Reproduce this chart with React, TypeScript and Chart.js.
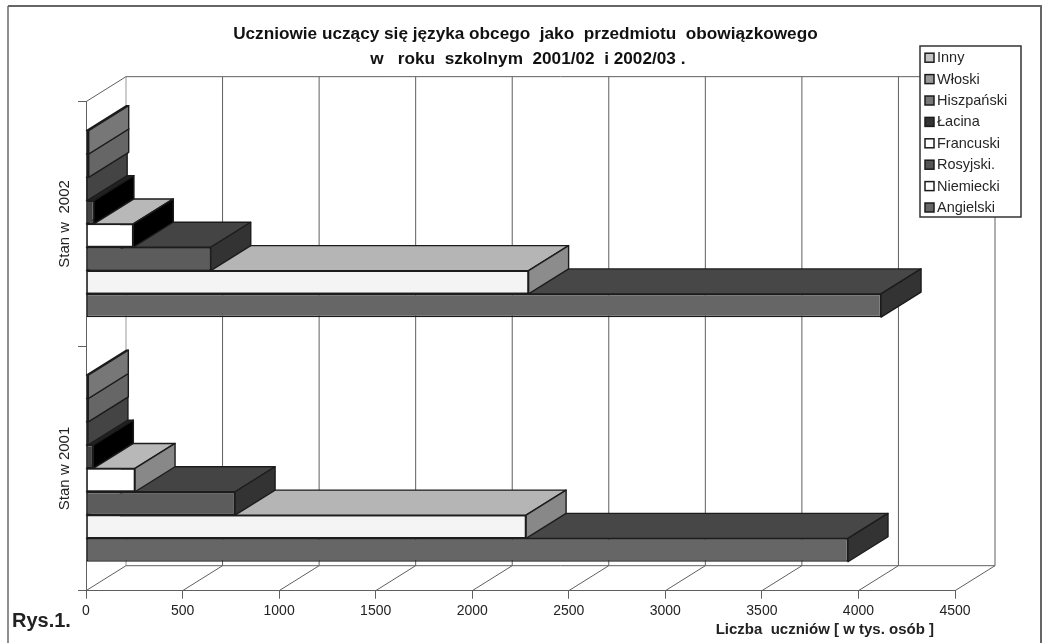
import React, { useEffect, useRef } from "react";
import { Chart, registerables } from "chart.js";

Chart.register(...registerables);

const categories = ["Stan w  2002", "Stan w 2001"];
const seriesNames = ["Inny", "Włoski", "Hiszpański", "Łacina", "Francuski", "Rosyjski.", "Niemiecki", "Angielski"];
const inny = [14, 12];
const wloski = [14, 12];
const hiszpanski = [6, 10];
const lacina = [41, 38];
const francuski = [245, 254];
const rosyjski = [646, 772];
const niemiecki = [2292, 2279];
const angielski = [4117, 3946];
const seriesValues = [inny, wloski, hiszpanski, lacina, francuski, rosyjski, niemiecki, angielski];

const frontColors = ["#777777", "#6c6c6c", "#505050", "#444444", "#ffffff", "#5c5c5c", "#f4f4f4", "#666666"];
const topColors = [
  ["#777777", "#777777"], ["#666666", "#666666"], ["#444444", "#444444"], ["#222222", "#222222"],
  ["#b8b8b8", "#b8b8b8"], ["#444444", "#444444"], ["#b5b5b5", "#b5b5b5"], ["#474747", "#474747"],
];
const sideColors = [
  ["#777777", "#777777"], ["#666666", "#666666"], ["#444444", "#444444"], ["#000000", "#000000"],
  ["#000000", "#888888"], ["#333333", "#333333"], ["#8c8c8c", "#888888"], ["#333333", "#333333"],
];
const swatchColors = ["#c4c4c4", "#999999", "#777777", "#333333", "#ffffff", "#555555", "#ffffff", "#666666"];

const titleLines = [
  " Uczniowie uczący się języka obcego  jako  przedmiotu  obowiązkowego",
  "  w   roku  szkolnym  2001/02  i 2002/03 .",
];
const FONT = '"Liberation Sans", Arial, sans-serif';
const DX = 40;
const DY = 25;
const WIDTH = 1046;
const HEIGHT = 643;

function poly(ctx: CanvasRenderingContext2D, pts: number[][], fill: string) {
  ctx.beginPath();
  pts.forEach((p, i) => (i ? ctx.lineTo(p[0], p[1]) : ctx.moveTo(p[0], p[1])));
  ctx.closePath();
  ctx.fillStyle = fill;
  ctx.fill();
  ctx.lineWidth = 1.4;
  ctx.strokeStyle = "#1c1c1c";
  ctx.lineJoin = "round";
  ctx.stroke();
}

const depthPlugin = {
  id: "depth3d",
  beforeDatasetsDraw(chart: any) {
    const { ctx, chartArea, scales } = chart;
    const x = scales.x;
    const { top, bottom, left, right } = chartArea;
    ctx.save();
    // page frame
    ctx.strokeStyle = "#8f8f8f";
    ctx.lineWidth = 2;
    ctx.beginPath();
    ctx.moveTo(8, HEIGHT);
    ctx.lineTo(8, 6);
    ctx.stroke();
    ctx.strokeStyle = "#666666";
    ctx.beginPath();
    ctx.moveTo(8, 6);
    ctx.lineTo(1041, 6);
    ctx.lineTo(1041, HEIGHT);
    ctx.stroke();
    // walls and floor
    ctx.lineWidth = 1;
    ctx.strokeStyle = "#6a6a6a";
    x.ticks.forEach((t: any, i: number) => {
      const px = x.getPixelForValue(t.value);
      ctx.strokeStyle = i === 0 ? "#999999" : "#5f5f5f";
      ctx.beginPath();
      ctx.moveTo(px + DX, top - DY);
      ctx.lineTo(px + DX, bottom - DY);
      ctx.stroke();
      ctx.strokeStyle = "#5f5f5f";
      ctx.beginPath();
      ctx.moveTo(px, bottom);
      ctx.lineTo(px + DX, bottom - DY);
      ctx.stroke();
    });
    ctx.beginPath();
    ctx.moveTo(left, top);
    ctx.lineTo(left + DX, top - DY);
    ctx.lineTo(right + DX, top - DY);
    ctx.moveTo(left + DX, bottom - DY);
    ctx.lineTo(right + DX, bottom - DY);
    ctx.stroke();
    ctx.restore();
  },
  afterDatasetDraw(chart: any, args: any) {
    const { ctx } = chart;
    const i = args.index;
    ctx.save();
    args.meta.data.forEach((bar: any, c: number) => {
      const { x, y, base, height } = bar.getProps(["x", "y", "base", "height"], true);
      const t = y - height / 2;
      const b = y + height / 2;
      poly(ctx, [[base, t], [x, t], [x + DX, t - DY], [base + DX, t - DY]], topColors[i][c]);
      poly(ctx, [[x, t], [x + DX, t - DY], [x + DX, b - DY], [x, b]], sideColors[i][c]);
    });
    ctx.restore();
  },
  afterDraw(chart: any) {
    const { ctx } = chart;
    ctx.save();
    // legend box
    ctx.fillStyle = "#ffffff";
    ctx.strokeStyle = "#333333";
    ctx.lineWidth = 1.5;
    ctx.fillRect(920, 46, 101, 171);
    ctx.strokeRect(920, 46, 101, 171);
    ctx.textBaseline = "middle";
    ctx.textAlign = "left";
    ctx.font = `14.5px ${FONT}`;
    chart.data.datasets.forEach((d: any, i: number) => {
      const cy = 57.7 + i * 21.4;
      ctx.fillStyle = swatchColors[i];
      ctx.fillRect(925, cy - 4.5, 9, 9);
      ctx.strokeStyle = "#1c1c1c";
      ctx.strokeRect(925, cy - 4.5, 9, 9);
      ctx.fillStyle = "#262626";
      ctx.fillText(d.label, 937, cy + 0.5);
    });
    // annotations
    ctx.fillStyle = "#222222";
    ctx.textBaseline = "alphabetic";
    ctx.font = `bold 20px ${FONT}`;
    ctx.fillText("Rys.1.", 12, 627);
    ctx.font = `bold 15px ${FONT}`;
    ctx.textAlign = "right";
    ctx.fillText("Liczba  uczniów [ w tys. osób ]", 934, 634);
    ctx.restore();
  },
};

export default function App() {
  const ref = useRef<HTMLCanvasElement | null>(null);
  useEffect(() => {
    if (!ref.current) return;
    const chart = new Chart(ref.current, {
      type: "bar",
      data: {
        labels: categories,
        datasets: seriesNames.map((label, i) => ({
          label,
          data: seriesValues[i],
          backgroundColor: frontColors[i],
          borderColor: "#1c1c1c",
          borderWidth: 1.4,
          borderSkipped: false,
          categoryPercentage: 0.763,
          barPercentage: 1,
        })),
      },
      options: {
        indexAxis: "y",
        animation: false,
        responsive: false,
        plugins: {
          legend: { display: false },
          tooltip: { enabled: false },
          title: {
            display: true,
            text: titleLines,
            color: "#111111",
            font: { family: FONT, size: 17.2, weight: "bold", lineHeight: 1.45 },
            padding: { top: 21.8, bottom: 30 },
          },
        },
        scales: {
          x: {
            type: "linear",
            min: 0,
            max: 4500,
            ticks: {
              stepSize: 500,
              autoSkip: false,
              maxRotation: 0,
              padding: 4,
              color: "#222222",
              font: { family: FONT, size: 14 },
              callback: (v: any) => String(v),
            },
            grid: { drawOnChartArea: false, tickLength: 8, color: "#5f5f5f" },
            border: { color: "#5f5f5f" },
            afterFit(s: any) {
              s.height = 52.3;
            },
          },
          y: {
            type: "category",
            ticks: {
              minRotation: 90,
              maxRotation: 90,
              crossAlign: "center",
              padding: -31,
              color: "#222222",
              font: { family: FONT, size: 15 },
            },
            grid: { drawOnChartArea: false, tickLength: 8, color: "#5f5f5f" },
            border: { color: "#5f5f5f" },
            afterFit(s: any) {
              s.width = 86;
            },
          },
          rightMargin: {
            type: "linear",
            axis: "y",
            position: "right",
            ticks: { display: false },
            grid: { display: false },
            border: { display: false },
            afterFit(s: any) {
              s.width = 91;
            },
          },
        },
      } as any,
      plugins: [depthPlugin],
    });
    return () => chart.destroy();
  }, []);
  return (
    <canvas
      ref={ref}
      width={WIDTH}
      height={HEIGHT}
      style={{ position: "absolute", left: 0, top: 0, display: "block", background: "#ffffff", filter: "blur(0.35px)" }}
    />
  );
}
